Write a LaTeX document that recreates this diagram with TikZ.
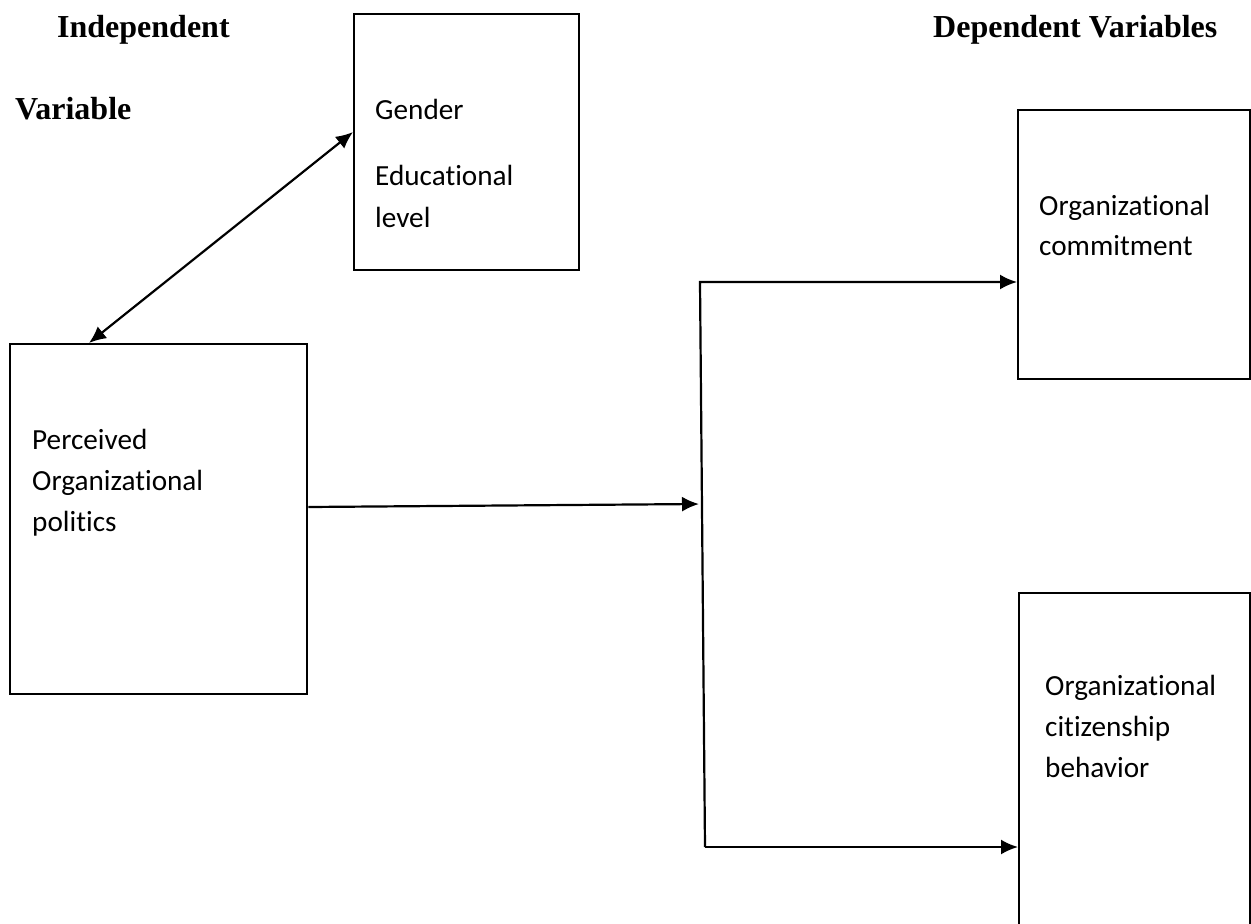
\documentclass[tikz,border=0pt]{standalone}
\usepackage{fontspec}
\setmainfont{Liberation Serif}
\newfontfamily\bodyfont[Ligatures={NoCommon}]{Carlito}
\usetikzlibrary{arrows.meta,calc}
\tikzset{
  box/.style={draw=black, line width=2.4pt, rectangle, inner sep=0pt, anchor=north west},
  head/.style={font=\fontsize{32}{36}\selectfont\bfseries, inner sep=0pt, anchor=base west},
  txt/.style={font=\bodyfont\fontsize{29.2}{41}\selectfont, inner sep=0pt, anchor=base west},
  arr/.style={line width=2.2pt, -{Latex[length=17pt,width=15pt]}},
  darr/.style={line width=2.2pt, {Latex[length=17pt,width=15pt]}-{Latex[length=17pt,width=15pt]}},
  conn/.style={line width=2.2pt}
}
\begin{document}
\begin{tikzpicture}[x=1pt,y=-1pt]
\useasboundingbox (0,0) rectangle (1251,924);
\clip (0,0) rectangle (1251,924);
\fill[white] (0,0) rectangle (1251,924);

% headings
\node[head] (h1) at (57,37) {Independent};
\node[head] (h2) at (15,119) {Variable};
\node[head] (h3) at (933,37) {Dependent Variables};

% boxes
\node[box, minimum width=225pt, minimum height=256pt] (gen) at (353,13) {};
\node[box, minimum width=297pt, minimum height=350pt] (pp) at (9,343) {};
\node[box, minimum width=232pt, minimum height=269pt] (oc) at (1017,109) {};
\node[box, minimum width=231pt, minimum height=360pt] (ocb) at (1018,592) {};

% texts
\node[txt] (g1) at (375,119) {Gender};
\node[txt] (g2) at (375,185) {Educational};
\node[txt] (g3) at (375,227) {level};

\node[txt] (p1) at (32,449) {Perceived};
\node[txt] (p2) at (32,490) {Organizational};
\node[txt] (p3) at (32,531) {politics};

\node[txt] (c1) at (1039,215) {Organizational};
\node[txt] (c2) at (1039,255) {commitment};

\node[txt] (b1) at (1045,695) {Organizational};
\node[txt] (b2) at (1045,736) {citizenship};
\node[txt] (b3) at (1045,777) {behavior};

% connectors
\coordinate (jt) at (700,282);
\coordinate (jb) at (705,847);
\coordinate (jm) at (699,504);

\draw[darr] ([xshift=80pt]pp.north west) -- ([yshift=-119pt]gen.north west);
\draw[arr] ([yshift=-164pt]pp.north east) -- (jm);
\draw[arr] (jb) -- (jt) -- ([yshift=-173pt]oc.north west);
\draw[arr] (jb) -- ([yshift=-255pt]ocb.north west);
\end{tikzpicture}
\end{document}
